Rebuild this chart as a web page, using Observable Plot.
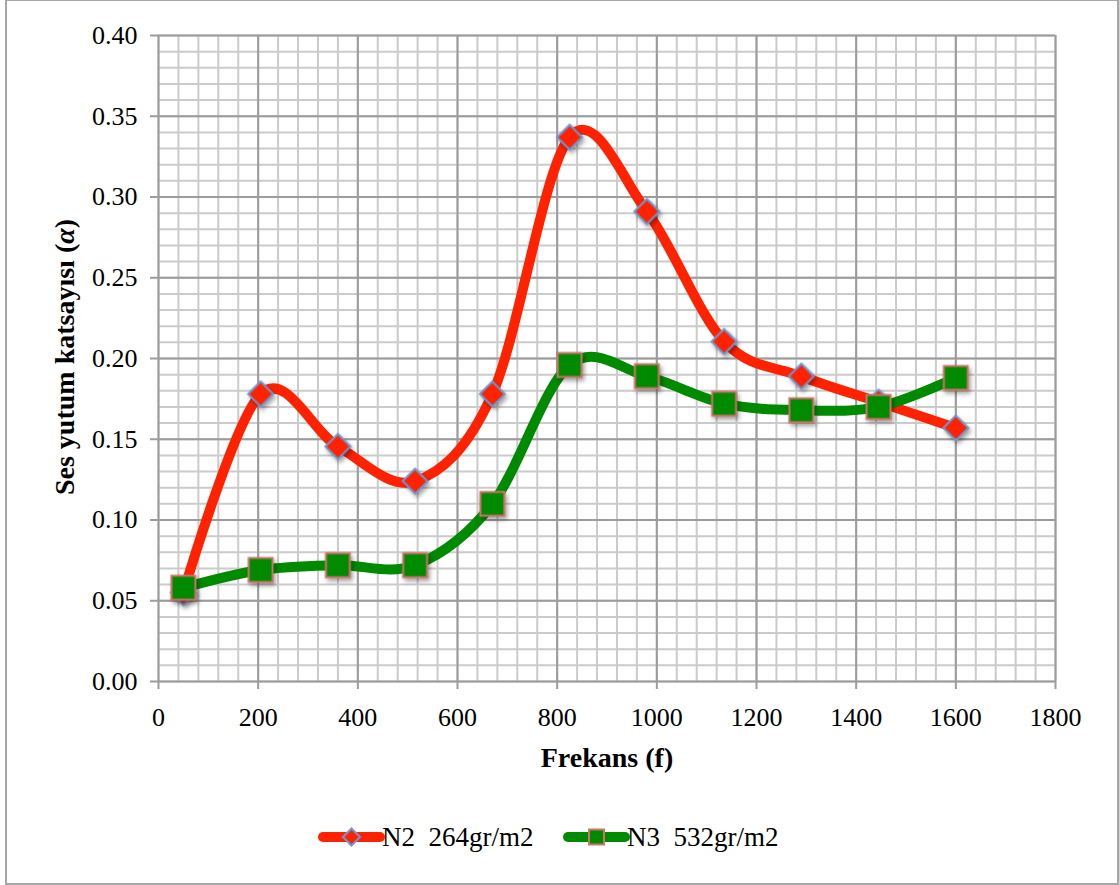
<!DOCTYPE html>
<html><head><meta charset="utf-8">
<script src="https://cdn.jsdelivr.net/npm/d3@7"></script>
<script src="https://cdn.jsdelivr.net/npm/@observablehq/plot@0.6"></script>
<style>
body{margin:0;background:#fff;width:1119px;height:885px;position:relative;overflow:hidden;font-family:"Liberation Serif",serif;}
#frame{position:absolute;left:5px;top:0;width:1114px;height:885px;box-sizing:border-box;border:2px solid #a6a6a6;border-top-width:1px;}
#chart{position:absolute;left:0;top:0;}
#chart svg text{font-family:"Liberation Serif",serif;}
.title{position:absolute;font-weight:bold;font-size:28px;color:#000;white-space:nowrap;line-height:1;}
#xtitle{left:607px;top:758px;transform:translate(-50%,-50%);}
#ytitle{left:65px;top:357px;transform:translate(-50%,-50%) rotate(-90deg);}
#legend{position:absolute;left:0;top:0;}
.lg{position:absolute;font-size:27px;white-space:pre;line-height:1;}
</style></head>
<body>
<div id="frame"></div>
<div id="chart"></div>
<div class="title" id="xtitle">Frekans (f)</div>
<div class="title" id="ytitle">Ses yutum katsayısı (<i>α</i>)</div>
<div id="legend"></div>
<script>
const freq = [50, 205, 360, 515, 670, 825, 980, 1135, 1290, 1445, 1600];
const n2 = [0.055, 0.178, 0.1455, 0.124, 0.178, 0.337, 0.291, 0.2105, 0.189, 0.173, 0.157];
const n3 = [0.058, 0.069, 0.072, 0.072, 0.110, 0.196, 0.189, 0.172, 0.168, 0.170, 0.188];
const seriesNames = ["N2  264gr/m2", "N3  532gr/m2"];
const seriesColors = ["#ff2200", "#008a00"];
const xTicks = [0, 200, 400, 600, 800, 1000, 1200, 1400, 1600, 1800];
const yTicks = [0, 0.05, 0.10, 0.15, 0.20, 0.25, 0.30, 0.35, 0.40];

const d2 = freq.map((f, i) => ({f, v: n2[i]}));
const d3s = freq.map((f, i) => ({f, v: n3[i]}));
const minorX = d3.range(0, 1800.1, 40);
const minorY = d3.range(0, 0.4001, 0.01);

const chart = Plot.plot({
  width: 1119,
  height: 790,
  marginLeft: 158,
  marginRight: 64,
  marginTop: 35,
  marginBottom: 109,
  style: {fontFamily: "'Liberation Serif', serif", background: "transparent"},
  x: {domain: [0, 1800]},
  y: {domain: [0, 0.4]},
  marks: [
    Plot.ruleX(minorX, {stroke: "#cbcbcb", strokeWidth: 2}),
    Plot.ruleY(minorY, {stroke: "#cbcbcb", strokeWidth: 2}),
    Plot.ruleX(xTicks, {stroke: "#9c9c9c", strokeWidth: 2}),
    Plot.ruleY(yTicks, {stroke: "#9c9c9c", strokeWidth: 2}),
    Plot.axisX({ticks: xTicks, tickSize: 8, tickPadding: 18, fontSize: 26, label: null, tickFormat: d3.format("d"), stroke: "#9c9c9c", strokeWidth: 2, fill: "#000"}),
    Plot.axisY({ticks: yTicks, tickSize: 8, tickPadding: 13, fontSize: 26, label: null, tickFormat: d3.format(".2f"), stroke: "#9c9c9c", strokeWidth: 2, fill: "#000"}),
    Plot.line(d2, {x: "f", y: "v", stroke: seriesColors[0], strokeWidth: 10, curve: "cardinal", strokeLinecap: "round"}),
    Plot.dot(d2, {x: "f", y: "v", symbol: "square", r: 10, rotate: 45, fill: seriesColors[0], stroke: "#6a9ad4", strokeWidth: 2}),
    Plot.line(d3s, {x: "f", y: "v", stroke: seriesColors[1], strokeWidth: 10, curve: "cardinal", strokeLinecap: "round"}),
    Plot.dot(d3s, {x: "f", y: "v", symbol: "square", r: 13.5, fill: seriesColors[1], stroke: "#d0736a", strokeWidth: 2})
  ]
});
document.getElementById("chart").appendChild(chart);
d3.select(chart).selectAll('g[aria-label="dot"]').style("filter", "drop-shadow(2px 3px 2px rgba(0,0,0,0.35))");

// legend
const lg = document.getElementById("legend");
const items = [
  {x0: 323, x1: 380, name: seriesNames[0], color: seriesColors[0], tx: 382, marker: "diamond"},
  {x0: 568, x1: 625, name: seriesNames[1], color: seriesColors[1], tx: 627, marker: "square"}
];
items.forEach(it => {
  const svg = d3.create("svg").attr("width", 80).attr("height", 40)
    .style("position", "absolute").style("left", (it.x0 - 10) + "px").style("top", "817px");
  svg.append("line").attr("x1", 10).attr("x2", 10 + it.x1 - it.x0).attr("y1", 20).attr("y2", 20)
    .attr("stroke", it.color).attr("stroke-width", 10).attr("stroke-linecap", "round");
  const cx = 10 + (it.x1 - it.x0) / 2;
  if (it.marker === "diamond") {
    svg.append("path").attr("d", `M${cx},11.5L${cx + 8.5},20L${cx},28.5L${cx - 8.5},20Z`)
      .attr("fill", it.color).attr("stroke", "#6a9ad4").attr("stroke-width", 2);
  } else {
    svg.append("rect").attr("x", cx - 7.5).attr("y", 12.5).attr("width", 15).attr("height", 15)
      .attr("fill", it.color).attr("stroke", "#d0736a").attr("stroke-width", 2);
  }
  lg.appendChild(svg.node());
  const t = document.createElement("div");
  t.className = "lg";
  t.style.left = it.tx + "px";
  t.style.top = "824px";
  t.textContent = it.name;
  lg.appendChild(t);
});
</script>
</body></html>
